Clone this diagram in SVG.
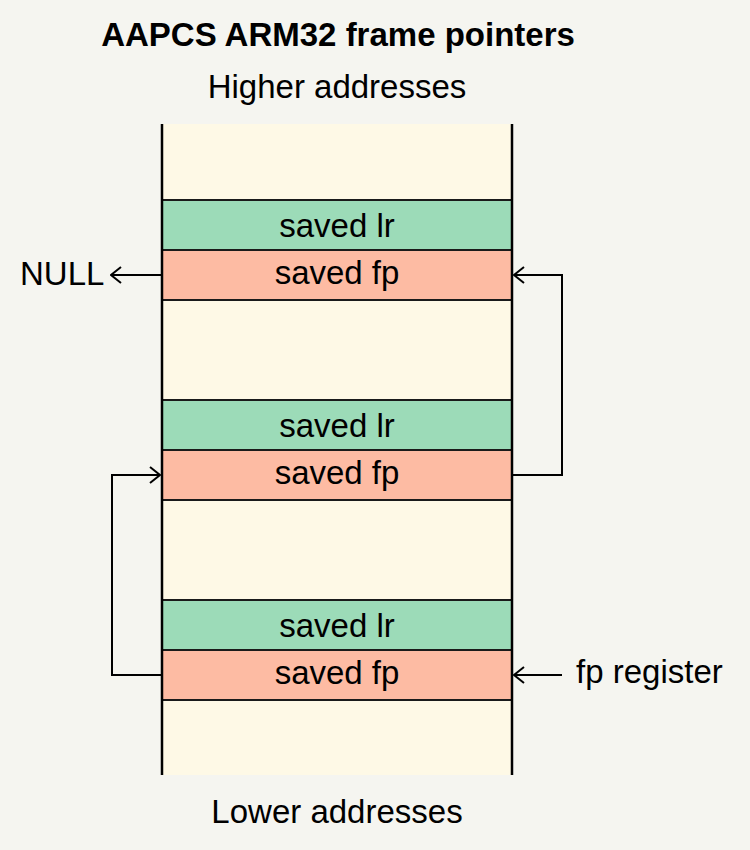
<svg xmlns="http://www.w3.org/2000/svg" width="750" height="850" viewBox="0 0 750 850">
<defs>
<style>
text{font-family:"Liberation Sans",Arial,sans-serif;font-size:33px;fill:#000}
.c{text-anchor:middle}
.lr{fill:#9cdbb8}
.fp{fill:#fdbba3}
.sep{stroke:#1a1a1a;stroke-width:2}
.con{fill:none;stroke:#000;stroke-width:2}
</style>
<marker id="ah" viewBox="0 0 12 18" refX="11" refY="9" markerWidth="12" markerHeight="18" markerUnits="userSpaceOnUse" orient="auto">
<path d="M1,1 L11,9 L1,17" fill="none" stroke="#000" stroke-width="2"/>
</marker>
</defs>
<rect width="750" height="850" fill="#f5f5f0"/>
<text class="c" x="338" y="46" style="font-weight:bold">AAPCS ARM32 frame pointers</text>
<text class="c" x="337" y="98">Higher addresses</text>
<text class="c" x="337" y="823">Lower addresses</text>
<g id="stack">
<rect x="162" y="124" width="350" height="651" fill="#fef9e6"/>
</g>
<g id="lr1"><rect class="lr" x="162" y="200" width="350" height="50"/><text class="c" x="337" y="237">saved lr</text></g>
<g id="fp1"><rect class="fp" x="162" y="250" width="350" height="50"/><text class="c" x="337" y="284">saved fp</text></g>
<g id="lr2"><rect class="lr" x="162" y="400" width="350" height="50"/><text class="c" x="337" y="437">saved lr</text></g>
<g id="fp2"><rect class="fp" x="162" y="450" width="350" height="50"/><text class="c" x="337" y="484">saved fp</text></g>
<g id="lr3"><rect class="lr" x="162" y="600" width="350" height="50"/><text class="c" x="337" y="637">saved lr</text></g>
<g id="fp3"><rect class="fp" x="162" y="650" width="350" height="50"/><text class="c" x="337" y="684">saved fp</text></g>
<g id="separators">
<line class="sep" x1="162" y1="200" x2="512" y2="200"/>
<line class="sep" x1="162" y1="250" x2="512" y2="250"/>
<line class="sep" x1="162" y1="300" x2="512" y2="300"/>
<line class="sep" x1="162" y1="400" x2="512" y2="400"/>
<line class="sep" x1="162" y1="450" x2="512" y2="450"/>
<line class="sep" x1="162" y1="500" x2="512" y2="500"/>
<line class="sep" x1="162" y1="600" x2="512" y2="600"/>
<line class="sep" x1="162" y1="650" x2="512" y2="650"/>
<line class="sep" x1="162" y1="700" x2="512" y2="700"/>
<line x1="162" y1="124" x2="162" y2="775" stroke="#000" stroke-width="2.5"/>
<line x1="512" y1="124" x2="512" y2="775" stroke="#000" stroke-width="2.5"/>
</g>
<g id="null"><text x="20" y="285">NULL</text></g>
<g id="fpreg"><text x="576" y="683">fp register</text></g>
<g id="connectors">
<path class="con" d="M162,275 H111" marker-end="url(#ah)"/>
<path class="con" d="M513,475 H562 V275 H514" marker-end="url(#ah)"/>
<path class="con" d="M161,675 H112 V475 H160" marker-end="url(#ah)"/>
<path class="con" d="M562,675 H514" marker-end="url(#ah)"/>
</g>
</svg>
